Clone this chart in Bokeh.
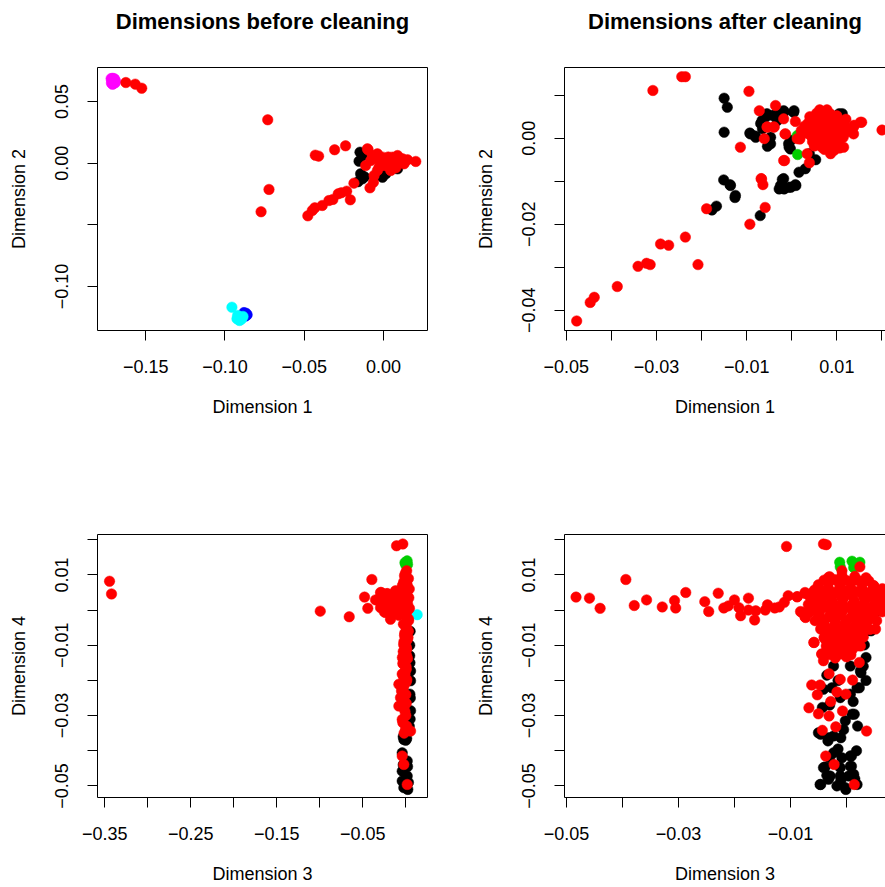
from bokeh.plotting import figure
from bokeh.layouts import column, row
from bokeh.models import FixedTicker, CustomJSTickFormatter, LinearAxis, Range1d
from bokeh.embed import file_html
from bokeh.resources import INLINE

FONT = "Liberation Sans"
COL = {"black": "#000000", "green": "#00CD00", "blue": "#0000FF",
       "cyan": "#00FFFF", "magenta": "#FF00FF", "red": "#FF0000"}

TITLES = ["Dimensions before cleaning", "Dimensions after cleaning"]

# ---------------- Panel 1: before cleaning, dimension 1 vs 2 ----------------
p1_black_x = [-0.0148, -0.0154, -0.0144, -0.0133, -0.0006, 0.0015, 0.0109, -0.0028, -0.0017, 0.0004, 0.0089, -0.0133, -0.0120, -0.0160]
p1_black_y = [0.0089, 0.0016, -0.0086, -0.0127, -0.0114, -0.0086, -0.0005, 0.0049, -0.0100, -0.0073, -0.0046, 0.0062, -0.0110, -0.0150]
p1_blue_x = [-0.0880, -0.0866, -0.0860, -0.0870]
p1_blue_y = [-0.1212, -0.1218, -0.1230, -0.1240]
p1_cyan_x = [-0.0956, -0.0903, -0.0924, -0.0908, -0.0886, -0.0920, -0.0895, -0.0912]
p1_cyan_y = [-0.1168, -0.1249, -0.1262, -0.1276, -0.1243, -0.1235, -0.1265, -0.1250]
p1_magenta_x = [-0.1718, -0.1708, -0.1697, -0.1712, -0.1700, -0.1690, -0.1716, -0.1704, -0.1693, -0.1709]
p1_magenta_y = [0.0686, 0.0688, 0.0684, 0.0668, 0.0672, 0.0665, 0.0650, 0.0646, 0.0652, 0.0640]
p1_red_x = [-0.1625, -0.1566, -0.1525, -0.0730, -0.0722, -0.0772, -0.0430, -0.0409, -0.0308, -0.0239,
            -0.0477, -0.0449, -0.0433, -0.0386, -0.0344, -0.0319, -0.0285, -0.0266, -0.0232, -0.0209, -0.0186,
            -0.0097, -0.0112, -0.0085, -0.0059, -0.0063, -0.0038, -0.0006, 0.0025, 0.0057, 0.0089, 0.0120,
            0.0152, 0.0204, -0.0028, 0.0004, 0.0035, 0.0067, 0.0099, 0.0015, -0.0017, -0.0038, -0.0080,
            -0.0070, 0.0046, 0.0078, 0.0130, 0.0060, 0.0030, -0.0050, 0.0110, -0.0101]
p1_red_y = [0.0654, 0.0641, 0.0608, 0.0352, -0.0213, -0.0394, 0.0065, 0.0057, 0.0109, 0.0141,
            -0.0427, -0.0384, -0.0362, -0.0343, -0.0303, -0.0294, -0.0248, -0.0240, -0.0227, -0.0297, -0.0162,
            0.0109, -0.0019, -0.0200, -0.0100, -0.0154, 0.0076, 0.0049, 0.0022, 0.0049, 0.0062, 0.0036,
            0.0028, 0.0014, -0.0032, -0.0019, -0.0032, -0.0005, 0.0008, 0.0008, 0.0008, -0.0059, 0.0022,
            0.0062, -0.0059, -0.0037, -0.0005, 0.0030, 0.0050, 0.0040, 0.0020, 0.0117]

# ---------------- Panel 2: after cleaning, dimension 1 vs 2 ----------------
p2_black_x = [-0.0150, -0.0143, -0.0150, -0.0093, -0.0081, -0.0069, -0.0058, -0.0054, -0.0017, 0.0005,
              -0.0006, -0.0002, 0.0105, -0.0151, -0.0137, -0.0126, -0.0167, -0.0177, -0.0070, -0.0028,
              -0.0021, -0.0017, -0.0002, 0.0009, 0.0016, 0.0030, 0.0053, 0.0039, -0.0043, -0.0032,
              -0.0065, -0.0047, -0.0092, -0.0080, -0.0066, -0.0055, -0.0032, -0.0018, 0.0004, -0.0047,
              -0.0007, -0.0003, -0.0018, -0.0025, -0.0007, 0.0008, -0.0125, -0.0136, 0.0112]
p2_black_y = [0.0093, 0.0072, 0.0014, 0.0012, 0.0005, 0.0034, 0.0049, -0.0019, 0.0061, 0.0064,
              -0.0021, -0.0005, 0.0057, -0.0097, -0.0108, -0.0138, -0.0158, -0.0167, -0.0180, -0.0118,
              -0.0096, -0.0118, -0.0114, -0.0110, -0.0079, -0.0071, -0.0050, -0.0036, 0.0053, 0.0041,
              0.0022, 0.0002, 0.0010, 0.0002, 0.0041, 0.0057, 0.0060, 0.0064, 0.0060, -0.0013,
              -0.0013, -0.0025, -0.0094, -0.0110, -0.0114, -0.0108, -0.0133, -0.0110, 0.0057]
p2_green_x = [0.0012, 0.0013]
p2_green_y = [0.0006, -0.0038]
p2_red_x = [-0.0477, -0.0447, -0.0438, -0.0387, -0.0341, -0.0322, -0.0314, -0.0291, -0.0273, -0.0236,
            -0.0208, -0.0189, -0.0093, -0.0059, -0.0067, -0.0064, -0.0114, -0.0016, 0.0039, -0.0308,
            -0.0244, -0.0236, -0.0095, -0.0036, -0.0072, 0.0200, 0.0155, 0.0138, 0.0137, -0.0061,
            -0.0054, -0.0039, -0.0018, -0.0015, 0.0008, -0.0055, -0.0040, -0.0014, 0.0012, 0.0034,
            0.0152, 0.0137, 0.0115, 0.0086, -0.0068, -0.0018,
            0.0040, 0.0055, 0.0070, 0.0085, 0.0100, 0.0036, 0.0050, 0.0064, 0.0078, 0.0092,
            0.0108, 0.0116, 0.0038, 0.0052, 0.0067, 0.0081, 0.0096, 0.0110, 0.0042, 0.0057,
            0.0072, 0.0088, 0.0102, 0.0114, 0.0046, 0.0060, 0.0075, 0.0090, 0.0104, 0.0050,
            0.0066, 0.0082, 0.0096, 0.0028, 0.0030, 0.0120, 0.0122, 0.0078, 0.0062, 0.0094,
            0.0072, 0.0106, 0.0047, 0.0062, 0.0077, 0.0092, 0.0044, 0.0059, 0.0074, 0.0089,
            0.0104, 0.0049, 0.0064, 0.0080, 0.0098, 0.0021, 0.0018]
p2_red_y = [-0.0425, -0.0382, -0.0370, -0.0345, -0.0298, -0.0291, -0.0294, -0.0246, -0.0249, -0.0230,
            -0.0294, -0.0164, -0.0200, -0.0161, -0.0095, -0.0108, -0.0021, -0.0052, -0.0057, 0.0111,
            0.0143, 0.0143, 0.0109, 0.0076, 0.0064, 0.0019, 0.0037, 0.0030, 0.0010, -0.0001,
            0.0026, 0.0026, 0.0045, 0.0010, 0.0039, 0.0026, 0.0026, 0.0010, -0.0001, -0.0036,
            0.0037, 0.0026, -0.0021, -0.0036, -0.0094, -0.0052,
            0.0050, 0.0058, 0.0060, 0.0057, 0.0052, 0.0035, 0.0040, 0.0044, 0.0042, 0.0040,
            0.0036, 0.0030, 0.0020, 0.0024, 0.0026, 0.0022, 0.0025, 0.0018, 0.0006, 0.0010,
            0.0008, 0.0011, 0.0006, 0.0002, -0.0008, -0.0004, -0.0007, -0.0003, -0.0009, -0.0018,
            -0.0020, -0.0016, -0.0021, 0.0028, 0.0012, 0.0044, 0.0015, 0.0066, 0.0066, -0.0028,
            -0.0026, -0.0023, 0.0031, 0.0033, 0.0034, 0.0032, 0.0015, 0.0017, 0.0016, 0.0017,
            0.0013, -0.0001, -0.0011, -0.0012, -0.0013, 0.0018, -0.0002]

# ---------------- Panel 3: before cleaning, dimension 3 vs 4 ----------------
p3_black_x = [0.0055, 0.0047, 0.0055, 0.0055, -0.0023, -0.0042, 0.0016, -0.0042, 0.0016, -0.0042,
              -0.0023, 0.0023, 0.0010, 0.0000, 0.0030, -0.0010, 0.0045, 0.0050, 0.0045, 0.0040,
              -0.0030, 0.0020, -0.0030, 0.0048, 0.0052, 0.0050]
p3_black_y = [-0.0173, -0.0239, -0.0286, -0.0201, -0.0368, -0.0406, -0.0429, -0.0458, -0.0472, -0.0486,
              -0.0505, -0.0510, -0.0365, -0.0370, -0.0490, -0.0500, -0.0100, -0.0060, -0.0130, -0.0330,
              -0.0360, -0.0445, -0.0440, -0.0150, -0.0250, -0.0310]
p3_green_x = [0.0008, -0.0010, 0.0020, 0.0000, 0.0015]
p3_green_y = [0.0136, 0.0135, 0.0130, 0.0128, 0.0140]
p3_cyan_x = [0.0132]
p3_cyan_y = [-0.0013]
p3_red_x = [-0.3445, -0.3422, -0.0995, -0.0658, -0.0480, -0.0442, -0.0395, -0.0294, -0.0216, -0.0108,
            -0.0035, -0.0352, -0.0286, -0.0224, -0.0294, -0.0236, -0.0178, -0.0158, -0.0120, -0.0100,
            -0.0140, -0.0090, -0.0070, -0.0080, -0.0060, -0.0190, -0.0260,
            0.0010, -0.0015, 0.0030, -0.0025, 0.0015, 0.0040, -0.0035, 0.0005, 0.0035, -0.0030,
            0.0020, -0.0010, 0.0042, -0.0020, 0.0008, 0.0032, -0.0028, 0.0012, -0.0012, 0.0025,
            -0.0022, 0.0005, -0.0030, 0.0010, -0.0018, 0.0002, -0.0040, -0.0010, -0.0025, 0.0004,
            -0.0081, -0.0081, -0.0042, 0.0055, -0.0003, -0.0023, -0.0042, -0.0023, -0.0062, -0.0042,
            -0.0023, -0.0042, -0.0023, 0.0016, -0.0050, 0.0000,
            -0.0005, 0.0000, -0.0005, 0.0015, -0.0020, 0.0025, -0.0025, 0.0030, 0.0000, 0.0030,
            -0.0015, 0.0015, -0.0025, 0.0010, -0.0005, 0.0020, -0.0035, 0.0005, -0.0010, 0.0012,
            -0.0035, 0.0000, -0.0030, 0.0005, -0.0010, -0.0035, 0.0010, -0.0020,
            -0.0110, -0.0130, -0.0150, -0.0200, -0.0250, -0.0320, -0.0040, -0.0050]
p3_red_y = [0.0082, 0.0046, -0.0003, -0.0019, 0.0037, 0.0005, 0.0087, 0.0050, 0.0047, 0.0183,
            0.0188, 0.0029, 0.0050, 0.0046, 0.0007, -0.0007, -0.0026, 0.0027, 0.0055, -0.0002,
            0.0009, 0.0030, 0.0010, -0.0015, 0.0045, 0.0020, 0.0025,
            0.0112, 0.0098, 0.0090, 0.0080, 0.0072, 0.0060, 0.0055, 0.0045, 0.0035, 0.0030,
            0.0018, 0.0010, 0.0005, -0.0005, -0.0018, -0.0030, -0.0040, -0.0052, -0.0065, -0.0078,
            -0.0090, -0.0105, -0.0118, -0.0130, -0.0145, -0.0160, -0.0135, -0.0175, -0.0190, -0.0205,
            -0.0211, -0.0273, -0.0182, -0.0344, -0.0339, -0.0216, -0.0249, -0.0277, -0.0249, -0.0311,
            -0.0154, -0.0415, -0.0439, -0.0496, -0.0230, -0.0300,
            0.0105, 0.0085, 0.0065, 0.0040, 0.0022, 0.0000, -0.0012, -0.0025, -0.0047, -0.0060,
            -0.0072, -0.0085, -0.0098, -0.0112, -0.0124, -0.0138, -0.0152, -0.0168, -0.0183, -0.0198,
            -0.0225, -0.0240, -0.0258, -0.0265, -0.0288, -0.0320, -0.0330, -0.0350,
            0.0012, 0.0035, -0.0012, 0.0012, -0.0005, 0.0030, 0.0070, 0.0015]

# ---------------- Panel 4: after cleaning, dimension 3 vs 4 ----------------
p4_black_x = [-0.0023, 0.0007, 0.0025, 0.0019, 0.0007, -0.0011, -0.0026, -0.0041, -0.0043, 0.0010,
              -0.0002, -0.0032, -0.0050, -0.0023, -0.0023, -0.0008, 0.0007, -0.0041, 0.0007, -0.0011,
              -0.0029, -0.0011, 0.0004, -0.0047, -0.0017, -0.0002, 0.0019, -0.0032, 0.0013, -0.0046,
              -0.0001, 0.0009, -0.0038, 0.0009, -0.0046, -0.0033, -0.0010, 0.0014, 0.0023, 0.0026,
              0.0035, 0.0032, 0.0052, 0.0044, 0.0058, 0.0037, 0.0050, 0.0056,
              -0.0035, -0.0015, 0.0012, -0.0030, -0.0005, 0.0020, -0.0015, 0.0018, -0.0030, -0.0010,
              0.0015, -0.0035, 0.0030, 0.0035]
p4_black_y = [-0.0159, -0.0159, -0.0173, -0.0221, -0.0239, -0.0249, -0.0221, -0.0225, -0.0277, -0.0296,
              -0.0315, -0.0363, -0.0349, -0.0358, -0.0406, -0.0420, -0.0415, -0.0448, -0.0444, -0.0448,
              -0.0472, -0.0472, -0.0472, -0.0496, -0.0500, -0.0505, -0.0496, -0.0481, -0.0467, -0.0496,
              -0.0510, -0.0415, -0.0446, -0.0444, -0.0353, -0.0372, -0.0363, -0.0296, -0.0221, -0.0178,
              -0.0135, -0.0099, -0.0002, -0.0059, -0.0002, -0.0059, 0.0060, 0.0020,
              -0.0185, -0.0200, -0.0260, -0.0270, -0.0340, -0.0330, -0.0395, -0.0400, -0.0420, -0.0485,
              -0.0480, -0.0470, -0.0160, -0.0200]
p4_green_x = [-0.0012, 0.0010, 0.0024, -0.0011, 0.0013]
p4_green_y = [0.0136, 0.0139, 0.0136, 0.0123, 0.0121]
p4_red_x = [-0.0483, -0.0459, -0.0440, -0.0394, -0.0379, -0.0357, -0.0329, -0.0307, -0.0305, -0.0287,
            -0.0253, -0.0246, -0.0229, -0.0219, -0.0211, -0.0200, -0.0192, -0.0189, -0.0175, -0.0175,
            -0.0164, -0.0162, -0.0145, -0.0141, -0.0128, -0.0120, -0.0111, -0.0104, -0.0088, -0.0082,
            -0.0074, -0.0074, -0.0058, -0.0107, -0.0041, -0.0036, 0.0036,
            -0.0062, -0.0047, -0.0067, -0.0052, -0.0028, -0.0050, -0.0031, -0.0043, -0.0019, -0.0007,
            -0.0001, -0.0017, -0.0011, 0.0011, 0.0023, -0.0031, -0.0041, -0.0044, -0.0037, -0.0022,
            0.0014, -0.0034, -0.0020, -0.0015,
            -0.0030, -0.0008, 0.0015, 0.0035, -0.0050, -0.0032, -0.0012, 0.0008, 0.0028, 0.0048,
            -0.0060, -0.0042, -0.0022, -0.0003, 0.0018, 0.0038, 0.0057, -0.0062, -0.0045, -0.0025,
            -0.0006, 0.0014, 0.0034, 0.0052, 0.0066, -0.0058, -0.0040, -0.0020, 0.0000, 0.0020,
            0.0040, 0.0058, -0.0050, -0.0032, -0.0012, 0.0008, 0.0027, 0.0045, -0.0040, -0.0022,
            -0.0004, 0.0015, 0.0032, -0.0036, -0.0018, 0.0000, 0.0018, -0.0030, -0.0012, 0.0006,
            0.0022, -0.0026, -0.0008, 0.0010, -0.0020, 0.0000,
            -0.0008, 0.0024, -0.0032, -0.0057, -0.0073, -0.0088, -0.0079, -0.0073, -0.0058, -0.0044,
            0.0052, 0.0067, 0.0061, 0.0049, -0.0038, -0.0044, -0.0014, -0.0002, 0.0025, 0.0031,
            -0.0040, -0.0020, 0.0000, 0.0020, 0.0040,
            -0.0052, -0.0032, -0.0012, 0.0008, 0.0028, 0.0048, 0.0064,
            -0.0066, -0.0050, -0.0030, -0.0010, 0.0010, 0.0030, 0.0048, 0.0064,
            -0.0068, -0.0050, -0.0030, -0.0010, 0.0010, 0.0030, 0.0050, 0.0068,
            -0.0066, -0.0048, -0.0028, -0.0008, 0.0012, 0.0032, 0.0050, 0.0064,
            -0.0056, -0.0040, -0.0020, 0.0000, 0.0020, 0.0038, 0.0054,
            -0.0046, -0.0028, -0.0010, 0.0008, 0.0026, 0.0042,
            -0.0040, -0.0022, -0.0004, 0.0014, 0.0030,
            -0.0036, -0.0018, 0.0000, 0.0018,
            -0.0030, -0.0012, 0.0008]
p4_red_y = [0.0037, 0.0034, 0.0005, 0.0087, 0.0013, 0.0029, 0.0009, 0.0027, 0.0006, 0.0050,
            0.0024, -0.0004, 0.0048, 0.0006, 0.0012, 0.0029, 0.0007, -0.0016, 0.0034, 0.0000,
            -0.0028, -0.0002, 0.0000, 0.0015, 0.0006, 0.0009, 0.0022, 0.0041, 0.0038, -0.0004,
            -0.0019, 0.0050, -0.0092, 0.0181, 0.0188, 0.0186, -0.0344,
            -0.0213, -0.0213, -0.0278, -0.0241, -0.0260, -0.0295, -0.0301, -0.0342, -0.0332, -0.0287,
            -0.0239, -0.0233, -0.0197, -0.0199, -0.0149, -0.0181, -0.0144, -0.0125, -0.0415, -0.0439,
            -0.0496, -0.0083, -0.0100, -0.0070,
            0.0095, 0.0098, 0.0096, 0.0092, 0.0072, 0.0078, 0.0075, 0.0079, 0.0074, 0.0070,
            0.0050, 0.0054, 0.0050, 0.0055, 0.0052, 0.0049, 0.0053, 0.0027, 0.0030, 0.0025,
            0.0031, 0.0026, 0.0029, 0.0024, 0.0030, 0.0004, 0.0008, 0.0002, 0.0007, 0.0003,
            0.0006, 0.0001, -0.0016, -0.0020, -0.0015, -0.0021, -0.0017, -0.0022, -0.0040, -0.0045,
            -0.0041, -0.0046, -0.0043, -0.0066, -0.0062, -0.0068, -0.0064, -0.0088, -0.0093, -0.0089,
            -0.0094, -0.0114, -0.0118, -0.0113, -0.0136, -0.0133,
            0.0112, 0.0123, 0.0093, 0.0057, 0.0047, 0.0038, -0.0007, -0.0021, -0.0092, -0.0050,
            -0.0054, 0.0003, 0.0036, 0.0069, -0.0083, -0.0125, -0.0111, -0.0125, -0.0102, -0.0059,
            0.0085, 0.0086, 0.0084, 0.0085, 0.0083,
            0.0062, 0.0061, 0.0063, 0.0062, 0.0060, 0.0062, 0.0061,
            0.0040, 0.0041, 0.0039, 0.0040, 0.0041, 0.0039, 0.0040, 0.0041,
            0.0016, 0.0015, 0.0017, 0.0016, 0.0015, 0.0017, 0.0016, 0.0015,
            -0.0006, -0.0005, -0.0007, -0.0006, -0.0005, -0.0007, -0.0006, -0.0005,
            -0.0030, -0.0029, -0.0031, -0.0030, -0.0029, -0.0031, -0.0030,
            -0.0054, -0.0053, -0.0055, -0.0054, -0.0053, -0.0055,
            -0.0078, -0.0077, -0.0079, -0.0078, -0.0077,
            -0.0102, -0.0101, -0.0103, -0.0102,
            -0.0126, -0.0125, -0.0127]

# ---------------- axes ----------------
p1_xticks = [-0.15, -0.10, -0.05, 0.00]
p1_xminor = []
p1_yticks = [0.05, 0.00, -0.10]
p1_yminor = [-0.05]
p2_xticks = [-0.05, -0.03, -0.01, 0.01]
p2_xminor = [-0.04, -0.02, 0.00, 0.02]
p2_yticks = [0.00, -0.02, -0.04]
p2_yminor = [0.01, -0.01, -0.03]
p3_xticks = [-0.35, -0.25, -0.15, -0.05]
p3_xminor = [-0.30, -0.20, -0.10, 0.00]
p34_yticks = [0.01, -0.01, -0.03, -0.05]
p34_yminor = [0.02, 0.00, -0.02, -0.04]
p4_xticks = [-0.05, -0.03, -0.01]
p4_xminor = [-0.04, -0.02, 0.00]

FMT = """
const v = Math.abs(tick) < 1e-12 ? 0 : tick;
return (v < 0 ? "\\u2212" : "") + Math.abs(v).toFixed(2);
"""


def style_axis(ax, ticks, minor, vertical=False):
    ax.ticker = FixedTicker(ticks=ticks, minor_ticks=minor)
    ax.formatter = CustomJSTickFormatter(code=FMT)
    ax.major_tick_out = 10
    ax.major_tick_in = 0
    ax.minor_tick_out = 10
    ax.minor_tick_in = 0
    ax.major_tick_line_color = "black"
    ax.minor_tick_line_color = "black"
    ax.major_label_text_font = FONT
    ax.major_label_text_font_size = "18px"
    ax.major_label_text_color = "black"
    ax.major_label_standoff = 19
    ax.axis_label_text_font = FONT
    ax.axis_label_text_font_size = "18px"
    ax.axis_label_text_font_style = "normal"
    ax.axis_label_text_color = "black"
    if vertical:
        ax.major_label_orientation = "vertical"
        ax.axis_label_standoff = 24
    else:
        ax.axis_label_standoff = 21


def make_fig(title, xlabel, ylabel, xr, yr, xt, xm, yt, ym, width, height,
             bl, br, bt, bb, closed):
    p = figure(width=width, height=height, x_range=Range1d(*xr), y_range=Range1d(*yr),
               output_backend="svg", toolbar_location=None, title=None,
               min_border_left=bl, min_border_right=br, min_border_top=bt, min_border_bottom=bb)
    p.grid.visible = False
    p.background_fill_color = "white"
    p.border_fill_color = "white"
    p.xaxis.axis_label = xlabel
    p.yaxis.axis_label = ylabel
    style_axis(p.xaxis[0], xt, xm)
    style_axis(p.yaxis[0], yt, ym, vertical=True)
    if closed:
        p.outline_line_color = "black"
        p.outline_line_width = 1
        p.xaxis.axis_line_color = None
        p.yaxis.axis_line_color = None
    else:
        p.outline_line_color = None
        p.xaxis.axis_line_color = "black"
        p.yaxis.axis_line_color = "black"
    # top axis: top edge of the box (open panels) and carrier of the panel title
    top = LinearAxis(ticker=FixedTicker(ticks=[]),
                     axis_line_color=None if closed else "black",
                     major_tick_out=0, major_tick_in=0, minor_tick_out=0, minor_tick_in=0,
                     major_tick_line_color=None, minor_tick_line_color=None,
                     major_label_standoff=0, major_label_text_font_size="0px")
    if title:
        top.axis_label = title
        top.axis_label_standoff = 34
        top.axis_label_text_font = FONT
        top.axis_label_text_font_size = "22px"
        top.axis_label_text_font_style = "bold"
        top.axis_label_text_color = "black"
    p.add_layout(top, "above")
    return p


def dots(p, xs, ys, color):
    p.scatter(xs, ys, size=10.5, marker="circle", fill_color=COL[color], line_color=COL[color], line_width=0.5)


p1 = make_fig(TITLES[0], "Dimension 1", "Dimension 2",
              (-0.1804, 0.0278), (-0.1357, 0.0776), p1_xticks, p1_xminor, p1_yticks, p1_yminor,
              442, 467, 97, 15, 67, 137, True)
dots(p1, p1_black_x, p1_black_y, "black")
dots(p1, p1_blue_x, p1_blue_y, "blue")
dots(p1, p1_cyan_x, p1_cyan_y, "cyan")
dots(p1, p1_magenta_x, p1_magenta_y, "magenta")
dots(p1, p1_red_x, p1_red_y, "red")

p2 = make_fig(TITLES[1], "Dimension 1", "Dimension 2",
              (-0.0504, 0.02078), (-0.04472, 0.01644), p2_xticks, p2_xminor, p2_yticks, p2_yminor,
              443, 467, 122, 0, 67, 137, False)
dots(p2, p2_black_x, p2_black_y, "black")
dots(p2, p2_green_x, p2_green_y, "green")
dots(p2, p2_red_x, p2_red_y, "red")

p3 = make_fig(None, "Dimension 3", "Dimension 4",
              (-0.3585, 0.0252), (-0.0533, 0.0215), p3_xticks, p3_xminor, p34_yticks, p34_yminor,
              442, 420, 97, 15, 67, 90, True)
dots(p3, p3_black_x, p3_black_y, "black")
dots(p3, p3_green_x, p3_green_y, "green")
dots(p3, p3_cyan_x, p3_cyan_y, "cyan")
dots(p3, p3_red_x, p3_red_y, "red")

p4 = make_fig(None, "Dimension 3", "Dimension 4",
              (-0.05036, 0.00698), (-0.0533, 0.0215), p4_xticks, p4_xminor, p34_yticks, p34_yminor,
              443, 420, 122, 0, 67, 90, False)
dots(p4, p4_black_x, p4_black_y, "black")
dots(p4, p4_green_x, p4_green_y, "green")
dots(p4, p4_red_x, p4_red_y, "red")

layout = column(row(p1, p2, spacing=0), row(p3, p4, spacing=0), spacing=0)

open("out.html", "w").write(file_html(layout, INLINE))
